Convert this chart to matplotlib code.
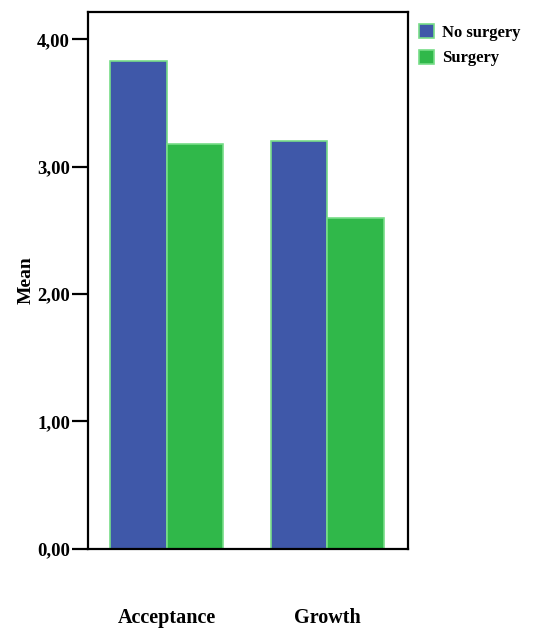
import numpy as np
import matplotlib.pyplot as plt
from matplotlib.patches import Patch

categories = ['Acceptance', 'Growth']
groups = ['No surgery', 'Surgery']
no_surgery = [3.83, 3.20]
surgery = [3.18, 2.60]
yticks = [0, 1, 2, 3, 4]

colors = ['#3f58a9', '#30b84a']
edge = '#77dd88'

plt.rcParams['font.family'] = ['Liberation Serif', 'DejaVu Serif']
plt.rcParams['font.weight'] = 'bold'

fig = plt.figure(figsize=(5.44, 6.28), dpi=100)
ax = fig.add_axes([0.1618, 0.1263, 0.588, 0.8551])

x = np.arange(len(categories))
w = 0.352
ax.bar(x - w / 2, no_surgery, w, color=colors[0], edgecolor=edge, linewidth=1.2)
ax.bar(x + w / 2, surgery, w, color=colors[1], edgecolor=edge, linewidth=1.2)

ax.set_xlim(-0.492, 1.502)
ax.set_ylim(0, 4.217)
ax.set_yticks(yticks)
ax.set_yticklabels([('%.2f' % v).replace('.', ',') for v in yticks])
ax.set_xticks(x)
ax.set_xticklabels(categories, fontsize=14.5, fontweight='bold')
ax.tick_params(axis='x', length=0, pad=43)
ax.tick_params(axis='y', length=11.5, width=1.6, pad=1.5, labelsize=13.5)
for s in ax.spines.values():
    s.set_linewidth(1.6)
ax.set_ylabel('Mean', fontsize=14, fontweight='bold', labelpad=2)

handles = [Patch(facecolor=c, edgecolor=edge, linewidth=1.2) for c in colors]
fig.legend(handles, groups, loc='upper left', bbox_to_anchor=(0.770, 0.962),
           frameon=False, fontsize=12, handlelength=0.9, handleheight=0.9,
           handletextpad=0.5, labelspacing=0.55, borderpad=0, borderaxespad=0)

plt.savefig('out.png')
